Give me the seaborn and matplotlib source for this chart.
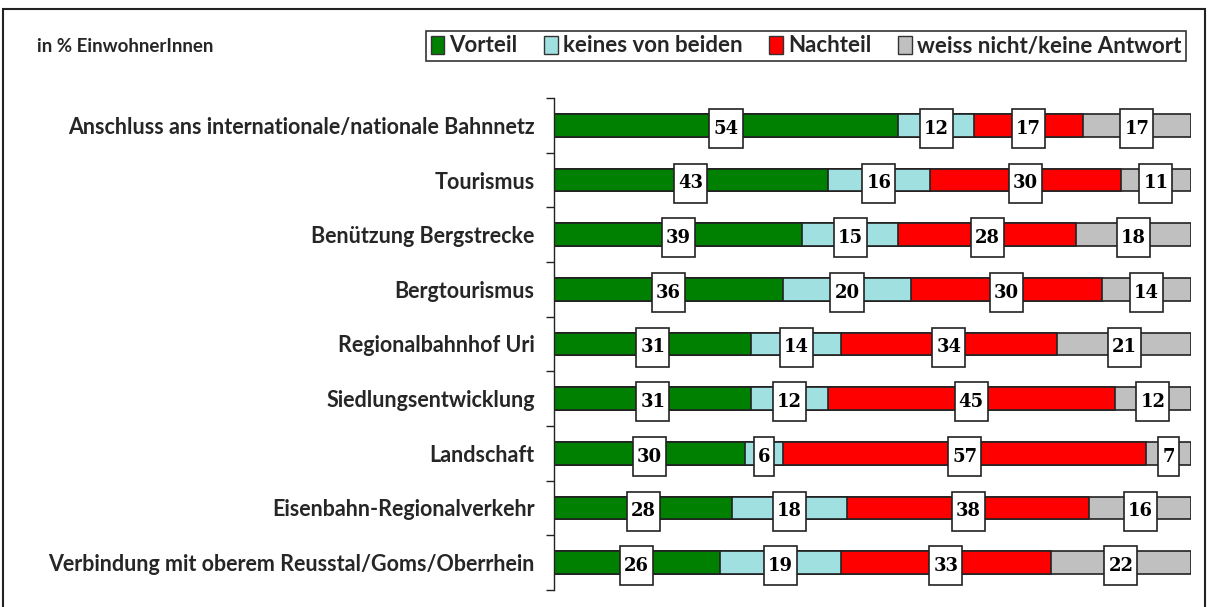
import numpy as np
import pandas as pd
import matplotlib
matplotlib.use("Agg")
import matplotlib.pyplot as plt
from matplotlib.path import Path
from matplotlib.patches import Rectangle, Patch
import seaborn as sns

categories = [
    "Anschluss ans internationale/nationale Bahnnetz",
    "Tourismus",
    "Benützung Bergstrecke",
    "Bergtourismus",
    "Regionalbahnhof Uri",
    "Siedlungsentwicklung",
    "Landschaft",
    "Eisenbahn-Regionalverkehr",
    "Verbindung mit oberem Reusstal/Goms/Oberrhein",
]
vorteil = [54, 43, 39, 36, 31, 31, 30, 28, 26]
keines = [12, 16, 15, 20, 14, 12, 6, 18, 19]
nachteil = [17, 30, 28, 30, 34, 45, 57, 38, 33]
weiss = [17, 11, 18, 14, 21, 12, 7, 16, 22]
series_names = ["Vorteil", "keines von beiden", "Nachteil", "weiss nicht/keine Antwort"]
series_values = [vorteil, keines, nachteil, weiss]
colors = ["#008000", "#A0E0E0", "#FF0000", "#C0C0C0"]

sns.set_theme(style="white")
plt.rcParams["font.family"] = ["Lato", "DejaVu Sans"]

fig = plt.figure(figsize=(12.18, 6.07), dpi=100)
ax = fig.add_axes([554 / 1218, 1 - 590 / 607, (1191 - 554) / 1218, (590 - 98) / 607])

vals = np.array(series_values, dtype=float)
cum = np.cumsum(vals, axis=0)
starts = cum - vals

# draw cumulative bars from outermost to innermost
for i in range(len(series_names) - 1, -1, -1):
    df = pd.DataFrame({"cat": categories, "val": cum[i]})
    sns.barplot(data=df, x="val", y="cat", orient="h", color=colors[i],
                width=0.42, edgecolor="#222222", linewidth=1.2,
                saturation=1, ax=ax, zorder=2)


def tallbox(x0, y0, width, height, mutation_size):
    px = 0.22 * mutation_size
    py = 0.58 * mutation_size
    x0 -= px; y0 -= py
    x1 = x0 + width + 2 * px
    y1 = y0 + height + 2 * py
    return Path([(x0, y0), (x1, y0), (x1, y1), (x0, y1), (x0, y0)],
                closed=True)


for i in range(len(series_names)):
    for j in range(len(categories)):
        v = vals[i, j]
        ax.text(starts[i, j] + v / 2, j + 0.06, f"{int(v)}",
                ha="center", va="center", fontsize=13, fontweight="bold",
                family=["DejaVu Serif"], color="black", zorder=5,
                bbox=dict(boxstyle=tallbox, fc="white", ec="#222222", lw=1.2))

ax.set_xlim(0, 100)
ax.set_ylim(len(categories) - 0.5, -0.5)
ax.set_xlabel("")
ax.set_ylabel("")
ax.set_xticks([])
ax.set_yticks(np.arange(-0.5, len(categories), 1.0))
ax.set_yticklabels([])
ax.set_yticks(np.arange(len(categories)), minor=True)
ax.set_yticklabels(categories, minor=True, fontsize=15.5, fontweight="bold")
ax.tick_params(axis="y", which="major", left=True, length=6, width=1, color="#222222")
ax.tick_params(axis="y", which="minor", left=False, length=0, pad=14)
for s in ["top", "right", "bottom"]:
    ax.spines[s].set_visible(False)
ax.spines["left"].set_color("#222222")
ax.spines["left"].set_linewidth(1)
ax.patch.set_alpha(0)

# legend
handles = [Patch(facecolor=c, edgecolor="#333333", lw=1) for c in colors]
leg = fig.legend(handles, series_names, loc="center",
                 bbox_to_anchor=((420 + 1192) / 2 / 1218, 1 - 46 / 607),
                 ncol=4, frameon=True, fancybox=False, edgecolor="black",
                 prop=dict(size=16, weight="bold"), handlelength=0.6, handleheight=0.9,
                 handletextpad=0.25, columnspacing=1.2, borderpad=0.22)
leg.get_frame().set_linewidth(1.2)

fig.text(37 / 1218, 1 - 46 / 607, "in % EinwohnerInnen", ha="left", va="center",
         fontsize=13.5, fontweight="bold")

# outer frame
fig.patches.append(Rectangle((3 / 1218, -0.02), (1205 - 3) / 1218, 1.02 - 9 / 607,
                             transform=fig.transFigure, fill=False,
                             edgecolor="#222222", lw=1.5))

fig.savefig("out.png", dpi=100, facecolor="white")
